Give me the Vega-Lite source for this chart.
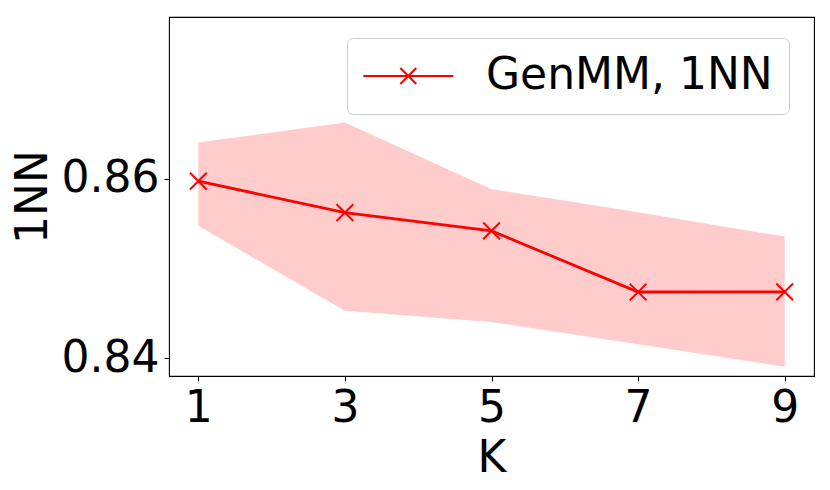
{
  "$schema": "https://vega.github.io/schema/vega-lite/v6.json",
  "autosize": {"type": "none"},
  "padding": {"left": 169, "top": 17, "right": 16, "bottom": 114},
  "width": 645,
  "height": 359,
  "config": {
    "font": "DejaVu Sans",
    "view": {"stroke": "black", "strokeWidth": 1.1},
    "axis": {
      "domain": false,
      "grid": false,
      "tickColor": "black",
      "tickSize": 5,
      "tickWidth": 1.1,
      "labelFont": "DejaVu Sans",
      "labelFontSize": 44,
      "labelColor": "black",
      "labelPadding": 5,
      "titleFont": "DejaVu Sans",
      "titleFontSize": 44,
      "titleFontWeight": "normal",
      "titleColor": "black"
    }
  },
  "data": {
    "values": [
      {"K": 1, "mean": 0.85971, "lo": 0.85473, "hi": 0.86401, "series": "GenMM, 1NN"},
      {"K": 3, "mean": 0.85621, "lo": 0.84528, "hi": 0.86625, "series": "GenMM, 1NN"},
      {"K": 5, "mean": 0.85417, "lo": 0.84402, "hi": 0.85882, "series": "GenMM, 1NN"},
      {"K": 7, "mean": 0.84736, "lo": 0.84153, "hi": 0.85625, "series": "GenMM, 1NN"},
      {"K": 9, "mean": 0.84737, "lo": 0.83903, "hi": 0.85353, "series": "GenMM, 1NN"}
    ]
  },
  "encoding": {
    "x": {
      "field": "K",
      "type": "quantitative",
      "scale": {"domain": [0.6, 9.4], "nice": false, "zero": false},
      "axis": {"values": [1, 3, 5, 7, 9], "format": "d", "title": "K", "titlePadding": 6, "labelFlush": false}
    }
  },
  "layer": [
    {
      "mark": {"type": "area", "color": "red", "opacity": 0.2},
      "encoding": {
        "y": {
          "field": "lo",
          "type": "quantitative",
          "scale": {"domain": [0.838, 0.878], "nice": false, "zero": false},
          "axis": {"values": [0.84, 0.86], "format": ".2f", "title": "1NN", "titlePadding": 6, "labelFlush": false}
        },
        "y2": {"field": "hi"}
      }
    },
    {
      "mark": {"type": "line", "strokeWidth": 2.8},
      "encoding": {
        "y": {"field": "mean", "type": "quantitative"},
        "stroke": {
          "field": "series",
          "type": "nominal",
          "scale": {"range": ["red"]},
          "legend": {
            "title": null,
            "orient": "none",
            "legendX": 178,
            "legendY": 21,
            "padding": 16,
            "strokeColor": "#cccccc",
            "cornerRadius": 6,
            "fillColor": "white",
            "labelFontSize": 44,
            "labelFont": "DejaVu Sans",
            "labelColor": "black",
            "labelLimit": 0,
            "labelOffset": 79,
            "symbolSize": 400,
            "symbolStrokeWidth": 2,
            "symbolFillColor": "transparent",
            "symbolType": "M-2.17,0L6.83,0M1.53,-0.8L3.13,0.8M3.13,-0.8L1.53,0.8"
          }
        }
      }
    },
    {
      "mark": {"type": "point", "shape": "M-1,-1L1,1M1,-1L-1,1", "size": 280, "filled": false, "color": "red", "strokeWidth": 2, "opacity": 1},
      "encoding": {
        "y": {"field": "mean", "type": "quantitative"}
      }
    }
  ]
}
